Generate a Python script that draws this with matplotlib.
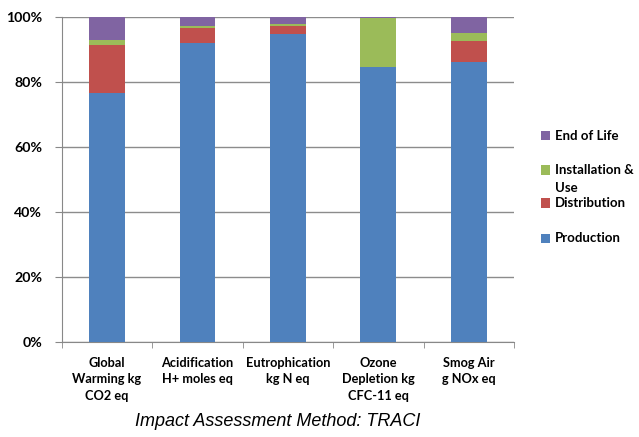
import matplotlib
matplotlib.use("Agg")
import matplotlib.pyplot as plt
from matplotlib.patches import Rectangle
import numpy as np

categories = ["Global\nWarming kg\nCO2 eq", "Acidification\nH+ moles eq", "Eutrophication\nkg N eq",
              "Ozone\nDepletion kg\nCFC-11 eq", "Smog Air\ng NOx eq"]
production = [76.6, 92.2, 95.0, 84.7, 86.3]
distribution = [14.9, 4.4, 2.3, 0.1, 6.4]
installation = [1.4, 0.6, 0.7, 14.9, 2.6]
end_of_life = [7.1, 2.8, 2.0, 0.3, 4.7]
series_names = ["Production", "Distribution", "Installation &\nUse", "End of Life"]
colors = ["#4F81BD", "#C0504D", "#9BBB59", "#8064A2"]

plt.rcParams['font.family'] = ['Lato', 'DejaVu Sans']
W, H = 639, 437
fig = plt.figure(figsize=(W/100, H/100), dpi=100)
ax = fig.add_axes([61.7/W, 1-341.7/H, (514-61.7)/W, (341.7-17.3)/H])

x = np.arange(len(categories))
bottom = np.zeros(len(categories))
for vals, name, c in zip([production, distribution, installation, end_of_life], series_names, colors):
    ax.bar(x, vals, 0.394, bottom=bottom, color=c, label=name, zorder=3)
    bottom += np.array(vals)

ax.set_xlim(-0.5, len(categories)-0.5)
ax.set_ylim(0, 100)
ax.set_yticks(np.arange(0, 101, 20))
ax.set_yticklabels([f"{v}%" for v in range(0, 101, 20)], fontsize=10.2, fontweight='bold')
ax.set_xticks(x)
ax.set_xticklabels(categories, fontsize=9.2, fontweight='bold', linespacing=1.45)
ax.set_xticks(np.arange(-0.5, len(categories), 1), minor=True)
ax.tick_params(axis='x', which='major', length=0, pad=11)
ax.tick_params(axis='x', which='minor', length=4, color='#888888')
ax.tick_params(axis='y', length=5, color='#888888', pad=9)
ax.grid(axis='y', color='#8c8c8c', linewidth=1, zorder=0)
for s in ['top', 'right']:
    ax.spines[s].set_visible(False)
ax.spines['left'].set_color('#888888')
ax.spines['bottom'].set_color('#888888')

# legend (manual, reversed order)
legend_rows = [(3, 135.7), (2, 170), (1, 203), (0, 238)]
for idx, ypix in legend_rows:
    fig.patches.append(Rectangle((541/W, 1-(ypix+4.5)/H), 9/W, 9/H, transform=fig.transFigure,
                                 facecolor=colors[idx], edgecolor='none'))
    lines = series_names[idx].split("\n")
    for k, line in enumerate(lines):
        fig.text(555/W, 1-(ypix + 18*k)/H, line, ha='left', va='center', fontsize=9.5, fontweight='bold')

fig.text(277.5/W, 1-421.7/H, "Impact Assessment Method: TRACI", ha='center', va='center',
         fontsize=13, style='italic', family='Liberation Sans')

fig.savefig("out.png", dpi=100)
